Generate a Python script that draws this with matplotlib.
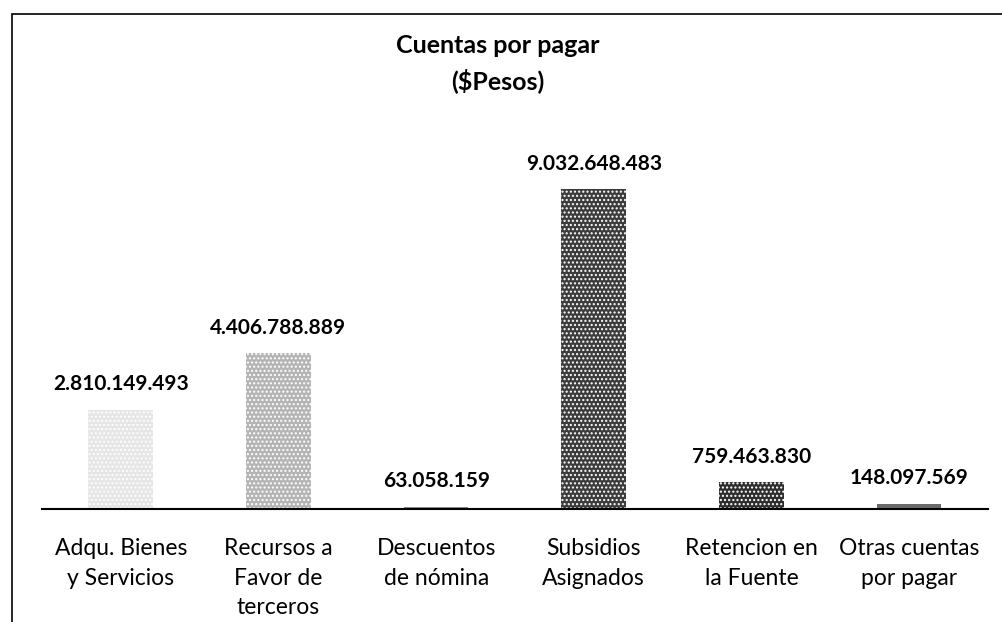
import matplotlib.pyplot as plt
from matplotlib.patches import Rectangle

categories = ['Adqu. Bienes\ny Servicios', 'Recursos a\nFavor de\nterceros',
              'Descuentos\nde nómina', 'Subsidios\nAsignados',
              'Retencion en\nla Fuente', 'Otras cuentas\npor pagar']
values = [2810149493, 4406788889, 63058159, 9032648483, 759463830, 148097569]
labels = ['2.810.149.493', '4.406.788.889', '63.058.159', '9.032.648.483',
          '759.463.830', '148.097.569']
shades = ['#e6e6e6', '#b4b4b4', '#8a8a8a', '#3c3c3c', '#2e2e2e', '#6a6a6a']
hatches = ['....', '....', '', '....', '....', '']

plt.rcParams['font.family'] = ['Lato', 'DejaVu Sans']

fig = plt.figure(figsize=(10.02, 6.22), dpi=100)
ax = fig.add_axes([0.0419, 0.1817, 0.9441, 0.5691])

x = range(len(categories))
bars = ax.bar(x, values, width=0.41, color=shades, edgecolor='none')
for b, h in zip(bars, hatches):
    b.set_hatch(h)
    b.set_edgecolor('#ffffff' if h else 'none')
    b.set_linewidth(0)

for xi, v, lab in zip(x, values, labels):
    ax.annotate(lab, (xi, v), xytext=(0, 11), textcoords='offset points',
                ha='center', va='bottom', fontsize=15, fontweight='bold')

ax.set_xlim(-0.5, 5.5)
ax.set_ylim(0, 1.0e10)
ax.set_xticks(list(x))
ax.set_xticklabels(categories, fontsize=16.5, linespacing=1.5)
ax.tick_params(axis='x', length=0, pad=21)
ax.set_yticks([])
for s in ['top', 'right', 'left']:
    ax.spines[s].set_visible(False)
ax.spines['bottom'].set_linewidth(1.5)

fig.text(0.497, 0.945, 'Cuentas por pagar\n($Pesos)', ha='center', va='top',
         fontsize=18, fontweight='bold', linespacing=1.5)

# outer frame (right and bottom edges cut off in the scan)
fig.patches.append(Rectangle((12 / 1002, -0.1), 1.2, 1.1 - 14 / 622,
                             transform=fig.transFigure, fill=False,
                             edgecolor='black', linewidth=1.2))

fig.savefig('out.png', dpi=100)
